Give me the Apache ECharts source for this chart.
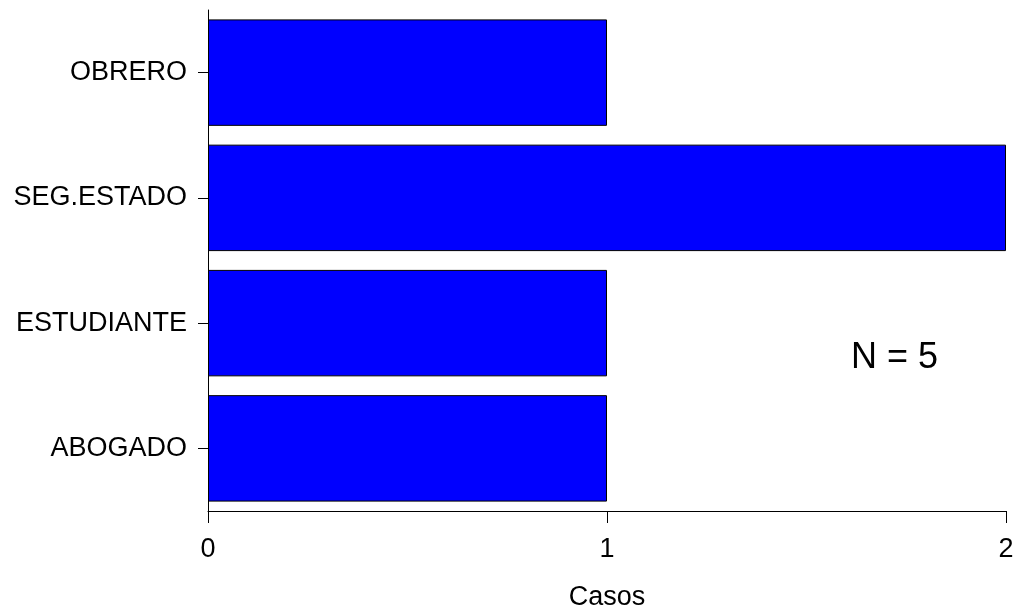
<!DOCTYPE html>
<html>
<head>
<meta charset="utf-8">
<script src="https://cdn.jsdelivr.net/npm/echarts@6/dist/echarts.min.js"></script>
<style>html,body{margin:0;padding:0;background:#fff}#c{width:1016px;height:608px}</style>
</head>
<body>
<div id="c"></div>
<script>
const categories = ['ABOGADO', 'ESTUDIANTE', 'SEG.ESTADO', 'OBRERO'];
const casos = [1, 1, 2, 1];
const xTicks = [0, 1, 2];
const xAxisTitle = 'Casos';
const annotation = 'N = 5';

const FONT = '"Liberation Sans", Arial, sans-serif';
const chart = echarts.init(document.getElementById('c'), null, {renderer: 'canvas'});
chart.setOption({
  animation: false,
  backgroundColor: '#fff',
  grid: {left: 208, right: 10, top: 10, bottom: 97, containLabel: false, outerBoundsMode: 'none'},
  xAxis: {
    type: 'value', min: xTicks[0], max: xTicks[xTicks.length - 1], interval: 1,
    name: xAxisTitle, nameLocation: 'middle', nameGap: 73,
    nameTextStyle: {fontFamily: FONT, fontSize: 27, color: '#000'},
    axisLine: {show: true, lineStyle: {color: '#000', width: 1}},
    axisTick: {show: true, length: 12, lineStyle: {color: '#000'}},
    axisLabel: {fontFamily: FONT, fontSize: 27, color: '#000', margin: 25},
    splitLine: {show: false}
  },
  yAxis: {
    type: 'category', data: categories,
    axisLine: {show: true, lineStyle: {color: '#000', width: 1}},
    axisTick: {show: true, alignWithLabel: true, length: 10, lineStyle: {color: '#000'}},
    axisLabel: {fontFamily: FONT, fontSize: 27, color: '#000', margin: 21},
    splitLine: {show: false}
  },
  series: [{
    type: 'bar', data: casos, barCategoryGap: '15%',
    itemStyle: {color: '#0000ff', borderColor: '#000', borderWidth: 1}
  }],
  graphic: [{
    type: 'text', left: 851, top: 340,
    style: {text: annotation, font: '36px ' + FONT, fill: '#000'}
  }]
});
</script>
</body>
</html>
